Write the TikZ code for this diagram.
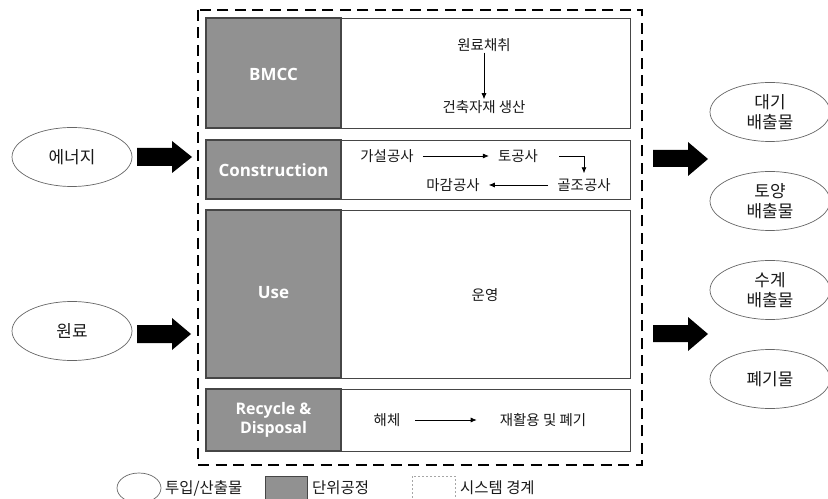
\documentclass[tikz,border=0pt]{standalone}
\usepackage{fontspec}
\setmainfont{Noto Sans CJK KR}
\newfontfamily\latf{Open Sans}
\usetikzlibrary{arrows.meta,shapes.geometric}
\definecolor{procgray}{RGB}{145,145,145}
\definecolor{edgegray}{RGB}{70,70,70}
\begin{document}
\begin{tikzpicture}[x=1bp,y=-1bp,
  proc/.style={draw=edgegray, line width=1.2bp, fill=procgray},
  cell/.style={draw=edgegray, line width=0.9bp, fill=white},
  ktext/.style={font=\fontsize{14.5}{16}\selectfont, inner sep=1bp, text=black!90},
  etext/.style={font=\latf\bfseries\fontsize{17}{19}\selectfont, text=white, align=center, inner sep=0pt},
  ell/.style={ellipse, draw=black!60, line width=0.7bp, minimum width=120bp, minimum height=59bp, inner sep=0pt, align=center, font=\fontsize{17}{20}\selectfont, text=black!90},
  arr/.style={-{Latex[length=6bp,width=5bp]}, line width=0.7bp},
  blk/.style={fill=black},
  bound/.style={draw=black, line width=2.8bp, dash pattern=on 11bp off 6.5bp}
]
\useasboundingbox (0,0) rectangle (828,499);

% system boundary
\draw[bound] (198,10) rectangle (642,465);

% BMCC row
\draw[cell] (206,18) rectangle (630,128);
\draw[proc] (206,18) rectangle (341,128);
\node[etext] (lbmcc) at (273.5,74) {BMCC};
\node[ktext] (b1) at (484,45) {원료채취};
\node[ktext] (b2) at (484,107) {건축자재 생산};
\draw[arr] (b1.south) -- (b2.north);

% Construction row
\draw[cell] (206,140) rectangle (630,199);
\draw[proc] (206,140) rectangle (341,199);
\node[etext] (lcon) at (273.5,170) {Construction};
\node[ktext] (c1) at (387,156) {가설공사};
\node[ktext] (c2) at (518,156) {토공사};
\node[ktext] (c3) at (584,185) {골조공사};
\node[ktext] (c4) at (453,185) {마감공사};
\draw[arr, shorten <=8bp, shorten >=8bp] (c1.east) -- (c2.west);
\draw[arr] ([xshift=20bp]c2.east) -| ([yshift=4bp]c3.north);
\draw[arr, shorten <=8bp, shorten >=8bp] (c3.west) -- (c4.east);

% Use row
\draw[cell] (206,210) rectangle (630,378);
\draw[proc] (206,210) rectangle (341,378);
\node[etext] (luse) at (273.5,293) {Use};
\node[ktext] (u1) at (485,295) {운영};

% Recycle row
\draw[cell] (206,389) rectangle (630,451);
\draw[proc] (206,389) rectangle (341,451);
\node[etext, font=\latf\bfseries\fontsize{16}{19}\selectfont] (lrec) at (273.5,420) {Recycle \&\\Disposal};
\node[ktext] (r1) at (387,420) {해체};
\node[ktext] (r2) at (543,420) {재활용 및 폐기};
\draw[arr, shorten <=14bp, shorten >=22bp] (r1.east) -- (r2.west);

% inputs
\node[ell] (en) at (72,157) {에너지};
\node[ell] (raw) at (72,331) {원료};
\fill[blk] (137,148) -- (172,148) -- (172,141) -- (192,157) -- (172,173) -- (172,166) -- (137,166) -- cycle;
\fill[blk] (137,325) -- (172,325) -- (172,318) -- (191,334) -- (172,350) -- (172,343) -- (137,343) -- cycle;

% outputs
\node[ell] (o1) at (770,112) {대기\\배출물};
\node[ell] (o2) at (770,201) {토양\\배출물};
\node[ell] (o3) at (770,290) {수계\\배출물};
\node[ell] (o4) at (770,379) {폐기물};
\fill[blk] (653,150) -- (688,150) -- (688,142) -- (708,159) -- (688,176) -- (688,167) -- (653,167) -- cycle;
\fill[blk] (653,325) -- (688,325) -- (688,317) -- (708,334) -- (688,351) -- (688,342) -- (653,342) -- cycle;

% legend
\node[ell, minimum width=44bp, minimum height=30bp] (lg1) at (139,488) {};
\node[ktext, anchor=west, font=\fontsize{15.5}{17}\selectfont] (lt1) at (164,488) {투입/산출물};
\draw[proc, line width=1bp] (265,476) rectangle (307,503);
\node[ktext, anchor=west, font=\fontsize{15.5}{17}\selectfont] (lt2) at (311,488) {단위공정};
\draw[draw=black!35, line width=0.7bp, dash pattern=on 2bp off 2bp] (412,476) rectangle (455,503);
\node[ktext, anchor=west, font=\fontsize{15.5}{17}\selectfont] (lt3) at (459,488) {시스템 경계};
\end{tikzpicture}
\end{document}
